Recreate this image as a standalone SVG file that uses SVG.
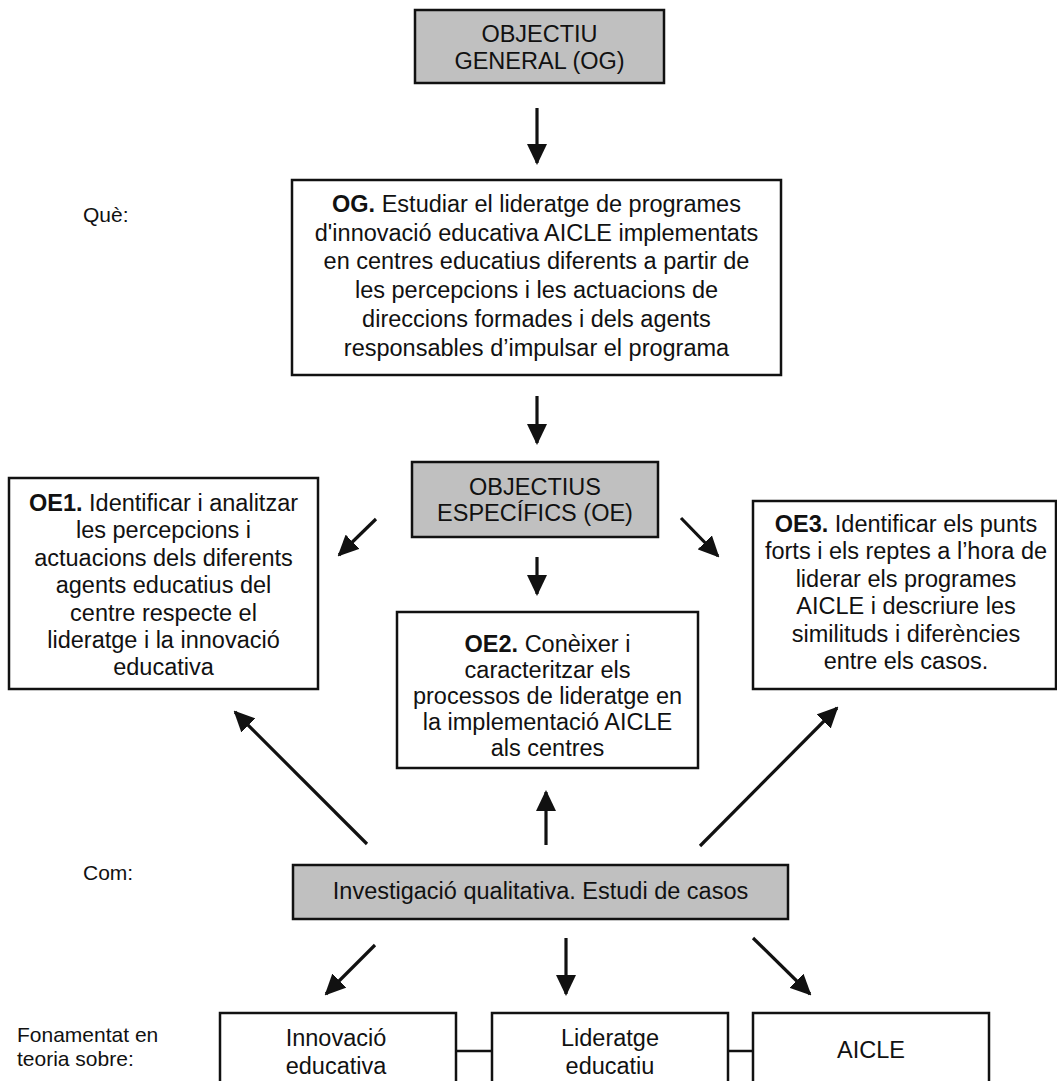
<svg xmlns="http://www.w3.org/2000/svg" width="1057" height="1081" viewBox="0 0 1057 1081">
<defs>
<style>
.box{fill:#fff;stroke:#111;stroke-width:2.5}
.gray{fill:#c0c0c0;stroke:#111;stroke-width:2.5}
.t{font-family:"Liberation Sans",Arial,Helvetica,sans-serif;font-size:23.5px;fill:#111;text-anchor:middle}
.lbl{font-family:"Liberation Sans",Arial,Helvetica,sans-serif;font-size:21px;fill:#111}
.b{font-weight:bold}
.arr{stroke:#111;stroke-width:3.2;fill:none;marker-end:url(#ah)}
.ln{stroke:#111;stroke-width:2.5;fill:none}
</style>
<marker id="ah" markerWidth="21" markerHeight="20" refX="19" refY="10" orient="auto" markerUnits="userSpaceOnUse">
<path d="M0,0 L21,10 L0,20 z" fill="#111"/>
</marker>
</defs>
<rect width="1057" height="1081" fill="#fff"/>

<g id="labels">
<text class="lbl" x="83" y="222">Què:</text>
<text class="lbl" x="83" y="880">Com:</text>
<text class="lbl" x="17" y="1042">Fonamentat en</text>
<text class="lbl" x="17" y="1066">teoria sobre:</text>
</g>

<g id="connectors">
<line class="arr" x1="537" y1="108" x2="537" y2="163"/>
<line class="arr" x1="537" y1="396" x2="537" y2="443"/>
<line class="arr" x1="376" y1="519" x2="339" y2="555"/>
<line class="arr" x1="537" y1="557" x2="537" y2="594"/>
<line class="arr" x1="681" y1="518" x2="718" y2="556"/>
<line class="arr" x1="367" y1="844" x2="235" y2="712"/>
<line class="arr" x1="546" y1="845" x2="546" y2="792"/>
<line class="arr" x1="700" y1="846" x2="837" y2="708"/>
<line class="arr" x1="375" y1="945" x2="326" y2="994"/>
<line class="arr" x1="566" y1="938" x2="566" y2="994"/>
<line class="arr" x1="753" y1="938" x2="810" y2="994"/>
<line class="ln" x1="456" y1="1051" x2="492" y2="1051"/>
<line class="ln" x1="728" y1="1051" x2="753" y2="1051"/>
</g>

<g id="og-title">
<rect class="gray" x="415" y="10" width="249" height="73"/>
<text class="t" x="539.5" y="42">OBJECTIU</text>
<text class="t" x="539.5" y="69">GENERAL (OG)</text>
</g>

<g id="og">
<rect class="box" x="292" y="180" width="489" height="195"/>
<text class="t" x="536.5" y="212"><tspan class="b">OG.</tspan> Estudiar el lideratge de programes</text>
<text class="t" x="536.5" y="240.7">d'innovació educativa AICLE implementats</text>
<text class="t" x="536.5" y="269.4">en centres educatius diferents a partir de</text>
<text class="t" x="536.5" y="298.1">les percepcions i les actuacions de</text>
<text class="t" x="536.5" y="326.8">direccions formades i dels agents</text>
<text class="t" x="536.5" y="355.5">responsables d’impulsar el programa</text>
</g>

<g id="oe-title">
<rect class="gray" x="412" y="462" width="246" height="75"/>
<text class="t" x="535" y="495">OBJECTIUS</text>
<text class="t" x="535" y="521">ESPECÍFICS (OE)</text>
</g>

<g id="oe1">
<rect class="box" x="9" y="478" width="309" height="211"/>
<text class="t" x="163.5" y="511"><tspan class="b">OE1.</tspan> Identificar i analitzar</text>
<text class="t" x="163.5" y="538.4">les percepcions i</text>
<text class="t" x="163.5" y="565.8">actuacions dels diferents</text>
<text class="t" x="163.5" y="593.2">agents educatius del</text>
<text class="t" x="163.5" y="620.6">centre respecte el</text>
<text class="t" x="163.5" y="648">lideratge i la innovació</text>
<text class="t" x="163.5" y="675.4">educativa</text>
</g>

<g id="oe2">
<rect class="box" x="397" y="612" width="301" height="156"/>
<text class="t" x="547.5" y="652"><tspan class="b">OE2.</tspan> Conèixer i</text>
<text class="t" x="547.5" y="678">caracteritzar els</text>
<text class="t" x="547.5" y="704">processos de lideratge en</text>
<text class="t" x="547.5" y="730">la implementació AICLE</text>
<text class="t" x="547.5" y="756">als centres</text>
</g>

<g id="oe3">
<rect class="box" x="753" y="501" width="303" height="188"/>
<text class="t" x="906" y="532"><tspan class="b">OE3.</tspan> Identificar els punts</text>
<text class="t" x="906" y="559.4">forts i els reptes a l’hora de</text>
<text class="t" x="906" y="586.8">liderar els programes</text>
<text class="t" x="906" y="614.2">AICLE i descriure les</text>
<text class="t" x="906" y="641.6">similituds i diferències</text>
<text class="t" x="906" y="669">entre els casos.</text>
</g>

<g id="investigacio">
<rect class="gray" x="293" y="865" width="495" height="54"/>
<text class="t" x="540.5" y="899">Investigació qualitativa. Estudi de casos</text>
</g>

<g id="innovacio">
<rect class="box" x="220" y="1013" width="236" height="80"/>
<text class="t" x="336" y="1046">Innovació</text>
<text class="t" x="336" y="1074">educativa</text>
</g>

<g id="lideratge">
<rect class="box" x="492" y="1013" width="236" height="80"/>
<text class="t" x="610" y="1046">Lideratge</text>
<text class="t" x="610" y="1074">educatiu</text>
</g>

<g id="aicle">
<rect class="box" x="753" y="1013" width="236" height="80"/>
<text class="t" x="871" y="1058">AICLE</text>
</g>
</svg>
